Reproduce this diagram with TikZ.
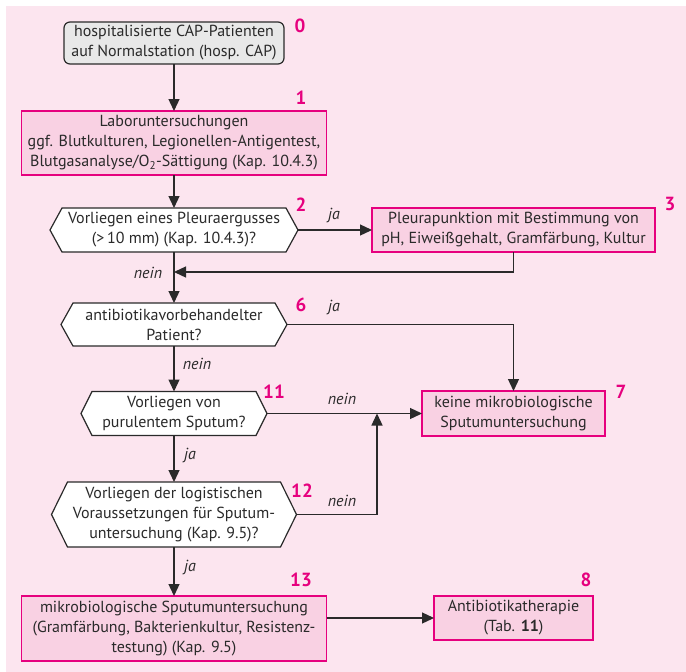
\documentclass[tikz,border=0pt]{standalone}
\usepackage{fontspec}
\setmainfont{PT Sans}
\usetikzlibrary{arrows.meta}
\pgfdeclarelayer{back}
\pgfsetlayers{back,main}
\definecolor{bgpink}{HTML}{FCE5EF}
\definecolor{boxpink}{HTML}{F9D1E3}
\definecolor{magentaline}{HTML}{E6007E}
\definecolor{inkgray}{HTML}{2A2A2A}
\definecolor{startgray}{HTML}{E8E8E8}

% hexagonal decision frame around a text node; #2 = depth of the side points
\newcommand\hexframe[2]{%
  \begin{pgfonlayer}{back}
  \draw[hexline] ([xshift=-#2pt]#1.west) -- (#1.north west) -- (#1.north east)
    -- ([xshift=#2pt]#1.east) -- (#1.south east) -- (#1.south west) -- cycle;
  \end{pgfonlayer}}

\begin{document}
\begin{tikzpicture}[x=1pt,y=-1pt,
  txt/.style={font=\fontsize{16}{20}\selectfont, text=inkgray, align=center,
    inner sep=0pt, outer sep=0pt},
  pinkbox/.style={txt, draw=magentaline, fill=boxpink, line width=1.2pt},
  startbox/.style={txt, draw=inkgray, fill=startgray, rounded corners=6pt, line width=1.2pt},
  hexline/.style={draw=inkgray, fill=white, line width=1.2pt, line join=miter},
  flow/.style={draw=inkgray, line width=1.3pt, -{Triangle[length=12pt,width=11pt]}},
  stepno/.style={font=\fontsize{19}{19}\selectfont\bfseries, text=magentaline, inner sep=0pt},
  answer/.style={font=\fontsize{16}{16}\selectfont\itshape, text=inkgray, inner sep=0pt},
]
\useasboundingbox (0,0) rectangle (686,672);
\begin{pgfonlayer}{back}
  \fill[white] (0,0) rectangle (686,672);
  \fill[bgpink] (6,6) rectangle (686,672);
\end{pgfonlayer}

% process boxes
\node[startbox, minimum width=220, minimum height=42] (b0) at (174,43)
  {hospitalisierte CAP-Patienten\\auf Normalstation (hosp. CAP)};
\node[pinkbox, minimum width=305, minimum height=64] (b1) at (174,143)
  {Laboruntersuchungen\\ggf. Blutkulturen, Legionellen-Antigentest,\\Blutgasanalyse/O\textsubscript{2}-Sättigung (Kap. 10.4.3)};
\node[pinkbox, minimum width=283, minimum height=44] (b3) at (513.5,230)
  {Pleurapunktion mit Bestimmung von\\pH, Eiweißgehalt, Gramfärbung, Kultur};
\node[pinkbox, minimum width=183, minimum height=45] (b7) at (513.5,413.5)
  {keine mikrobiologische\\Sputumuntersuchung};
\node[pinkbox, minimum width=305, minimum height=65] (b13) at (174,628.5)
  {mikrobiologische Sputumuntersuchung\\(Gramfärbung, Bakterienkultur, Resistenz-\\testung) (Kap. 9.5)};
\node[pinkbox, minimum width=159, minimum height=44] (b8) at (513.5,618)
  {Antibiotikatherapie\\(Tab. \textbf{11})};

% decisions
\node[txt, minimum width=224, minimum height=44] (h2) at (174,230)
  {Vorliegen eines Pleuraergusses\\(>\,10 mm) (Kap. 10.4.3)?};
\hexframe{h2}{12}
\node[txt, minimum width=202, minimum height=43] (h6) at (174,324.5)
  {antibiotikavorbehandelter\\Patient?};
\hexframe{h6}{12}
\node[txt, minimum width=164, minimum height=44] (h11) at (174,413.5)
  {Vorliegen von\\purulentem Sputum?};
\hexframe{h11}{11}
\node[txt, minimum width=213, minimum height=65] (h12) at (174,514.5)
  {Vorliegen der logistischen\\Voraussetzungen für Sputum-\\untersuchung (Kap. 9.5)?};
\hexframe{h12}{16}

% step numbers
\node[stepno] (n0) at (300,26) {0};
\node[stepno] (n1) at (301,98) {1};
\node[stepno] (n2) at (301,205) {2};
\node[stepno] (n3) at (670,204) {3};
\node[stepno] (n6) at (301,305) {6};
\node[stepno] (n7) at (621,392) {7};
\node[stepno] (n11) at (274,392) {11};
\node[stepno] (n12) at (302,491) {12};
\node[stepno] (n13) at (301,580) {13};
\node[stepno] (n8) at (586,580) {8};

% connectors
\coordinate (merge) at (174,272);
\coordinate (join) at (377,413.5);
\draw[flow] (b0.south) -- (b1.north);
\draw[flow] (b1.south) -- (h2.north);
\draw[flow] ([xshift=12pt]h2.east) -- (b3.west);
\draw[flow] (b3.south) |- (merge);
\draw[flow] (h2.south) -- (h6.north);
\draw[flow] ([xshift=12pt]h6.east) -| (b7.north);
\draw[flow] (h6.south) -- (h11.north);
\draw[flow] ([xshift=11pt]h11.east) -- (b7.west);
\draw[flow] ([xshift=16pt]h12.east) -| (join);
\draw[flow] (h11.south) -- (h12.north);
\draw[flow] (h12.south) -- (b13.north);
\draw[flow] (b13.east |- b8.west) -- (b8.west);

% answer labels
\node[answer] (a2y) at (334,215) {ja};
\node[answer] (a2n) at (148,273) {nein};
\node[answer] (a6y) at (334,307) {ja};
\node[answer] (a6n) at (197,364) {nein};
\node[answer] (a11n) at (342,399) {nein};
\node[answer] (a11y) at (190,455) {ja};
\node[answer] (a12n) at (342,501) {nein};
\node[answer] (a12y) at (190,567) {ja};
\end{tikzpicture}
\end{document}
